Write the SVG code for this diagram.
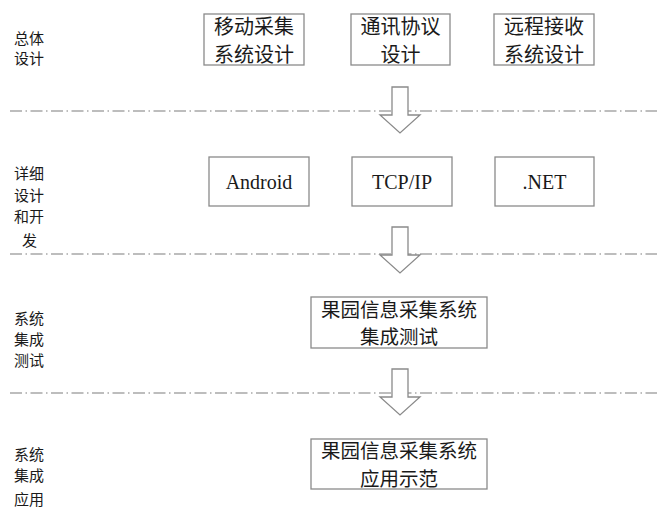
<svg xmlns="http://www.w3.org/2000/svg" width="657" height="529" viewBox="0 0 657 529">
<style>
.box{fill:#fff;stroke:#8a8a8a;stroke-width:1.3}
.cn{font-family:"Noto Sans CJK SC","Liberation Sans",sans-serif;font-size:20px;fill:#1a1a1a;text-anchor:middle}
.cn2{font-family:"Noto Sans CJK SC","Liberation Sans",sans-serif;font-size:19.5px;fill:#1a1a1a;text-anchor:middle}
.en{font-family:"Liberation Serif","Tinos","Times New Roman",serif;font-size:20px;fill:#1a1a1a;text-anchor:middle}
.lbl{font-family:"Noto Sans CJK SC","Liberation Sans",sans-serif;font-size:15px;fill:#1a1a1a}
.sep{stroke:#a8a8a8;stroke-width:1.6;stroke-dasharray:12 3.5 1.5 3.5;fill:none}
.arr{fill:#fff;stroke:#8a8a8a;stroke-width:1.3;stroke-linejoin:miter}
</style>
<rect width="657" height="529" fill="#fff"/>
<g id="separators">
<line class="sep" x1="10" y1="111" x2="657" y2="111"/>
<line class="sep" x1="10" y1="254" x2="657" y2="254"/>
<line class="sep" x1="10" y1="393" x2="657" y2="393"/>
</g>
<g id="labels">
<text class="lbl" x="14" y="44">总体</text>
<text class="lbl" x="14" y="64">设计</text>
<text class="lbl" x="14" y="179">详细</text>
<text class="lbl" x="14" y="201">设计</text>
<text class="lbl" x="14" y="222">和开</text>
<text class="lbl" x="22" y="246">发</text>
<text class="lbl" x="14" y="324">系统</text>
<text class="lbl" x="14" y="345">集成</text>
<text class="lbl" x="14" y="366">测试</text>
<text class="lbl" x="14" y="460">系统</text>
<text class="lbl" x="14" y="481">集成</text>
<text class="lbl" x="14" y="505">应用</text>
</g>
<g id="node-mobile">
<rect class="box" x="204" y="14" width="100" height="51"/>
<text class="cn" x="254" y="34">移动采集</text>
<text class="cn" x="254" y="62">系统设计</text>
</g>
<g id="node-protocol">
<rect class="box" x="351" y="14" width="99" height="51"/>
<text class="cn" x="400.5" y="34">通讯协议</text>
<text class="cn" x="400.5" y="62">设计</text>
</g>
<g id="node-remote">
<rect class="box" x="494" y="14" width="100" height="51"/>
<text class="cn" x="544" y="34">远程接收</text>
<text class="cn" x="544" y="62">系统设计</text>
</g>
<g id="node-android">
<rect class="box" x="209" y="157" width="100" height="49"/>
<text class="en" x="259" y="189">Android</text>
</g>
<g id="node-tcpip">
<rect class="box" x="352" y="157" width="100" height="49"/>
<text class="en" x="402" y="189">TCP/IP</text>
</g>
<g id="node-net">
<rect class="box" x="495" y="157" width="99" height="49"/>
<text class="en" x="544.5" y="189">.NET</text>
</g>
<g id="node-test">
<rect class="box" x="311" y="297" width="176" height="51"/>
<text class="cn2" x="399" y="317">果园信息采集系统</text>
<text class="cn2" x="399" y="344">集成测试</text>
</g>
<g id="node-demo">
<rect class="box" x="311" y="439" width="176" height="50"/>
<text class="cn2" x="399" y="458">果园信息采集系统</text>
<text class="cn2" x="399" y="486">应用示范</text>
</g>
<g id="connectors">
<polygon class="arr" points="392,87 408,87 408,115 420,115 400,133 380,115 392,115"/>
<polygon class="arr" points="392,227 408,227 408,255 420,255 400,273 380,255 392,255"/>
<polygon class="arr" points="392,369 408,369 408,397 420,397 400,415 380,397 392,397"/>
</g>
</svg>
